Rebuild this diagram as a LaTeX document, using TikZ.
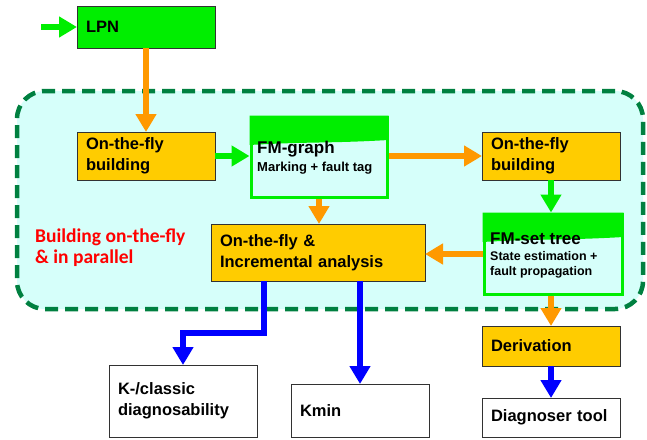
\documentclass[tikz,border=0pt]{standalone}
\usepackage{fontspec}
\setmainfont{Liberation Sans}
\newfontfamily\carlito{Carlito}
\usetikzlibrary{arrows.meta,calc}
\definecolor{cgreen}{RGB}{0,238,0}
\definecolor{borange}{RGB}{255,204,0}
\definecolor{aorange}{RGB}{255,153,0}
\definecolor{lcyan}{RGB}{214,255,250}
\definecolor{dgreen}{RGB}{0,128,64}
\definecolor{bblue}{RGB}{0,0,255}
\definecolor{edgec}{RGB}{50,50,50}
\tikzset{
  bx/.style={draw=edgec, line width=1pt, inner xsep=9pt, inner ysep=0pt, outer sep=0pt,
    align=left, anchor=north west, font=\bfseries\fontsize{16.5}{21}\selectfont},
  obox/.style={bx, fill=borange},
  gbox/.style={bx, fill=cgreen},
  wbox/.style={bx, fill=white},
  fmbox/.style={draw=cgreen, line width=3pt, fill=lcyan, anchor=north west, inner sep=0pt},
  bigt/.style={anchor=base west, inner sep=0pt, font=\bfseries\fontsize{17}{20}\selectfont},
  smallt/.style={anchor=base west, inner sep=0pt, font=\bfseries\fontsize{12.5}{15}\selectfont},
  redt/.style={anchor=base west, inner sep=0pt, text=red, font=\carlito\bfseries\fontsize{19.5}{21}\selectfont},
  arr/.style={line width=6.5pt, line join=miter, -{Triangle[width=20pt,length=18pt]}},
  garr/.style={arr, draw=cgreen},
  oarr/.style={arr, draw=aorange},
  barr/.style={arr, draw=bblue},
}
\begin{document}
\begin{tikzpicture}[x=1pt,y=-1pt]
\useasboundingbox (0,0) rectangle (647,439);
% region
\node[draw=dgreen, line width=4.5pt, dash pattern=on 13pt off 7pt, fill=lcyan,
  rounded corners=28pt, minimum width=626pt, minimum height=218pt, anchor=north west,
  outer sep=0pt, inner sep=0pt] (region) at (17,91) {};
% boxes
\node[gbox, text width=120pt, minimum height=42pt] (lpn) at (77,6) {LPN};
\node[obox, text width=120pt, minimum height=48pt] (otfA) at (77,132) {On-the-fly\\building};
\node[fmbox, minimum width=136pt, minimum height=80pt] (fmg) at (249.5,115.5) {};
\fill[cgreen] (fmg.north west) -- (fmg.north east) -- ($(fmg.north east)+(0,24.5)$)
  .. controls ($(fmg.north east)+(-60,28)$) and ($(fmg.north west)+(60,26)$) .. ($(fmg.north west)+(0,29.5)$) -- cycle;
\node[bigt] (fmgt1) at (257,153) {FM-graph};
\node[smallt, font=\bfseries\fontsize{13}{15}\selectfont] (fmgt2) at (257,171) {Marking + fault tag};
\node[obox, text width=120pt, minimum height=48pt] (otfB) at (482,132) {On-the-fly\\building};
\node[fmbox, minimum width=138pt, minimum height=80pt] (fms) at (482.5,212.5) {};
\fill[cgreen] (fms.north west) -- (fms.north east) -- ($(fms.north east)+(0,24.5)$)
  .. controls ($(fms.north east)+(-60,28)$) and ($(fms.north west)+(60,26)$) .. ($(fms.north west)+(0,29.5)$) -- cycle;
\node[bigt] (fmst1) at (490,244) {FM-set tree};
\node[smallt] (fmst2) at (490,260) {State estimation +};
\node[smallt] (fmst3) at (490,275) {fault propagation};
\node[obox, text width=196pt, minimum height=57pt] (ana) at (211,224) {On-the-fly \&\\Incremental analysis};
\node[wbox, text width=130pt, minimum height=72pt] (kbox) at (109,365) {K-/classic\\diagnosability};
\node[wbox, text width=120pt, minimum height=53pt] (kmin) at (291,384) {Kmin};
\node[obox, text width=120pt, minimum height=40pt] (deriv) at (482,326) {Derivation};
\node[wbox, text width=120pt, minimum height=39pt] (diag) at (482,398) {Diagnoser tool};
% red text
\node[redt] (red1) at (35,242) {Building on-the-fly};
\node[redt] (red2) at (35,263) {\& in parallel};
% arrows
\coordinate (in) at (41,27);
\draw[garr] (in) -- (lpn.west);
\draw[oarr] (lpn.south) -- (otfA.north);
\draw[garr] (otfA.east) -- (otfA.east -| fmg.west);
\draw[oarr] (fmg.east |- otfB.west) -- (otfB.west);
\draw[garr] (otfB.south) -- (otfB.south |- fms.north);
\draw[oarr] (fmg.south) -- (fmg.south |- ana.north);
\draw[oarr] (fms.west) -- (ana.east |- fms.west);
\draw[barr] ($(ana.south west)+(53,0)$) -- ++(0,52) -| (kbox.north);
\draw[barr] (kmin.north |- ana.south) -- (kmin.north);
\draw[oarr] (deriv.north |- fms.south) -- (deriv.north);
\draw[barr] (deriv.south) -- (diag.north);
\end{tikzpicture}
\end{document}
